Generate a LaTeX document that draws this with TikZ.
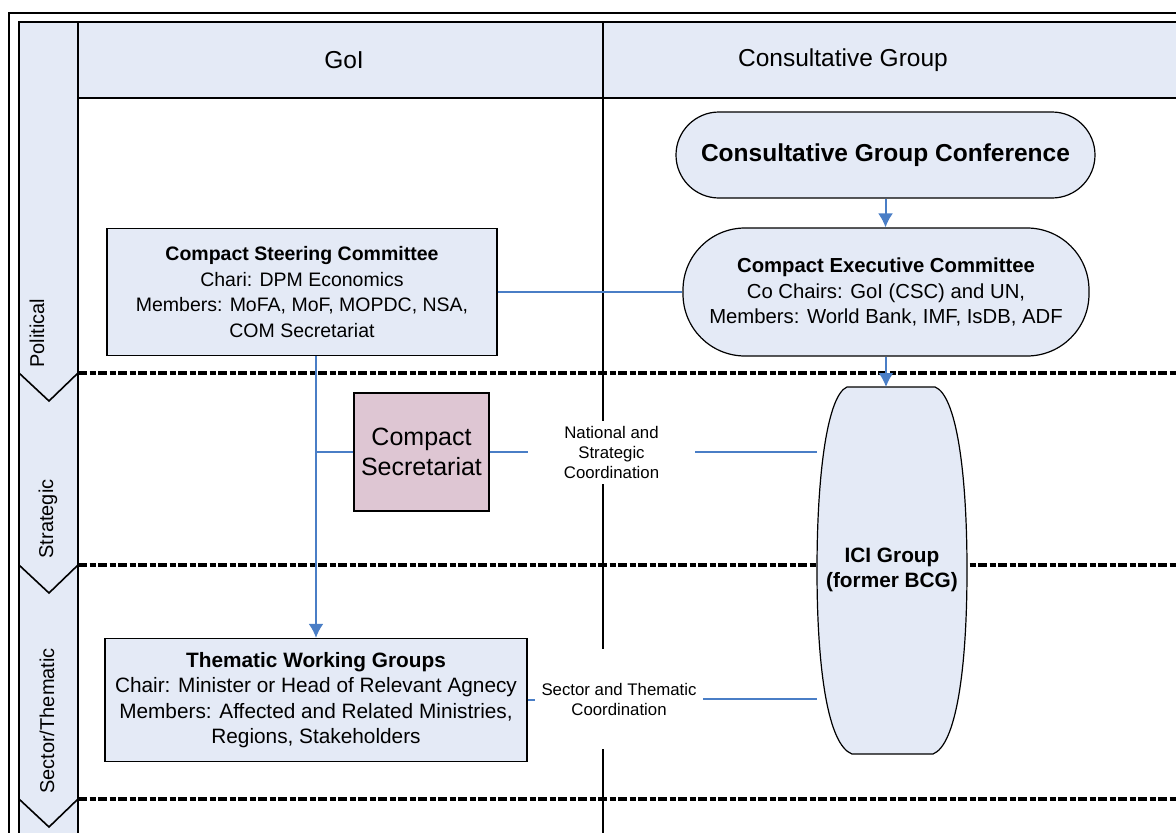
\documentclass[tikz,border=0pt]{standalone}
\usepackage{fontspec}
\setmainfont{Liberation Sans}
\usetikzlibrary{arrows.meta}
\definecolor{bleupale}{RGB}{228,234,246}
\definecolor{mauve}{RGB}{222,198,211}
\definecolor{bleulien}{RGB}{74,126,198}

\begin{document}
\begin{tikzpicture}[x=1pt,y=-1pt]
        \useasboundingbox (0,0) rectangle (1176,833);
        \clip (0,0) rectangle (1176,833);
        \tikzset{boite/.style={draw,line width=1.3pt,fill=bleupale,align=center,inner sep=0pt,font=\fontsize{19.5}{25.5}\selectfont},
                 fleche/.style={-{Latex[length=14pt,width=15pt]},bleulien,line width=2pt},
                 trait/.style={bleulien,line width=2pt},
                 pointille/.style={line width=3.8pt,dash pattern=on 9pt off 2.5pt on 6pt off 2.5pt},
                 couloir/.style={rotate=90,font=\fontsize{20}{24}\selectfont},
                 etiquette/.style={fill=white,align=center,inner sep=0pt,font=\fontsize{16.8}{20}\selectfont}}
        % cadre et couloirs
        \draw[line width=1.6pt] (9,13) rectangle (1200,900);
        \fill[bleupale] (19,22) rectangle (78,900);
        \fill[bleupale] (78,22) rectangle (1200,98);
        \draw[line width=1.3pt] (19,900) -- (19,22) -- (1200,22);
        \draw[line width=1.3pt] (78,22) -- (78,900);
        \draw[line width=1.3pt] (78,98) -- (1200,98);
        \draw[line width=1.3pt] (603,22) -- (603,900);
        \foreach \y in {373,565,799} {
                \draw[pointille] (78,\y) -- (1200,\y);
                \draw[line width=1.6pt] (19,\y) -- (49,\y+28) -- (78,\y);
        }
        \node[font=\fontsize{24.5}{28}\selectfont] (GOI) at (344,60) {GoI};
        \node[font=\fontsize{24.5}{28}\selectfont] (CG) at (843,60) {Consultative Group};
        \node[couloir] (POL) at (37,333) {Political};
        \node[couloir] (STR) at (48,519) {Strategic};
        \node[couloir] (SEC) at (47,721) {Sector/Thematic};
        % boites
        \node[boite,minimum width=390pt,minimum height=127pt] (CSC) at (302,292)
                {\textbf{Compact Steering Committee}\\Chari: DPM Economics\\Members: MoFA, MoF, MOPDC, NSA,\\COM Secretariat};
        \node[boite,fill=mauve,minimum width=135pt,minimum height=118pt,font=\fontsize{25}{30}\selectfont] (CS) at (421.5,452)
                {Compact\\Secretariat};
        \node[boite,minimum width=422pt,minimum height=123pt,font=\fontsize{20.8}{25.3}\selectfont] (TWG) at (316,700)
                {\textbf{Thematic Working Groups}\\Chair: Minister or Head of Relevant Agnecy\\Members: Affected and Related Ministries,\\Regions, Stakeholders};
        \node[boite,line width=1.2pt,rounded corners=43pt,minimum width=419pt,minimum height=86pt,font=\bfseries\fontsize{24.5}{28}\selectfont] (CGC) at (885.5,155)
                {Consultative Group Conference};
        \node[boite,line width=1.2pt,rounded corners=62pt,minimum width=406pt,minimum height=128pt,font=\fontsize{20.3}{25.5}\selectfont] (CEC) at (886,292)
                {\textbf{Compact Executive Committee}\\Co Chairs: GoI (CSC) and UN,\\Members: World Bank, IMF, IsDB, ADF};
        \node[etiquette,minimum width=167pt,minimum height=63pt] (NSC) at (611.5,452) {National and\\Strategic\\Coordination};
        \node[etiquette,minimum width=168pt,minimum height=100pt] (STC) at (619,699) {Sector and Thematic\\Coordination};
        \coordinate (ICIw) at (817,570);
        \coordinate (ICIn) at (892,387);
        % liens
        \draw[trait] (CSC.east) -- (CSC.east -| CEC.west);
        \draw[fleche] (CGC.south) -- (CGC.south |- CEC.north);
        \draw[fleche] (CSC.south -| TWG.north) -- (TWG.north);
        \draw[trait] (CS.west) -- (CS.west -| TWG.north);
        \draw[trait] (CS.east) -- (CS.east -| NSC.west);
        \draw[trait] (NSC.east) -- (NSC.east -| ICIw);
        \draw[trait] (TWG.east) -- (TWG.east -| STC.west);
        \draw[trait] (STC.east) -- (STC.east -| ICIw);
        % groupe ICI
        \draw[line width=1.2pt,fill=bleupale] (847,387) -- (935,387)
                .. controls (956,395) and (967,470) .. (967,570)
                .. controls (967,670) and (956,745) .. (933,754) -- (852,754)
                .. controls (828,745) and (817,670) .. (817,570)
                .. controls (817,470) and (828,395) .. (847,387) -- cycle;
        \node[align=center,font=\bfseries\fontsize{20.8}{25}\selectfont] (ICI) at (892,570) {ICI Group\\(former BCG)};
        \draw[fleche] (CEC.south) -- (CEC.south |- ICIn);
\end{tikzpicture}
\end{document}
